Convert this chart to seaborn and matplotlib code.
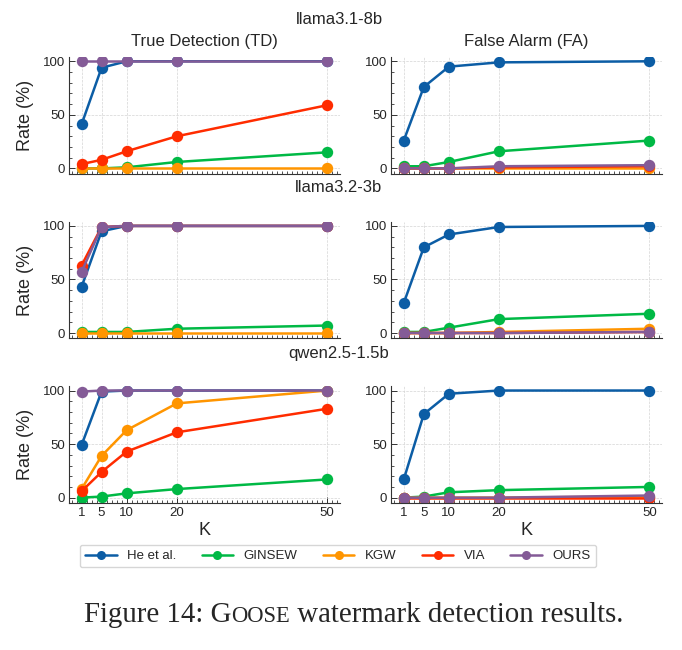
"""GOOSE watermark detection results: TD / FA rates vs K for three models"""

import pandas as pd
import matplotlib.pyplot as plt
import seaborn as sns
from matplotlib.ticker import MultipleLocator

K = [1, 5, 10, 20, 50]
methods = ["He et al.", "GINSEW", "KGW", "VIA", "OURS"]
colors = ["#0C5DA5", "#00B945", "#FF9500", "#FF2C00", "#845B97"]
models = ["llama3.1-8b", "llama3.2-3b", "qwen2.5-1.5b"]

# true detection rates (%), one list per method, per model
td_llama31 = [
    [41, 94, 100, 100, 100],
    [0, 0, 1, 6, 15],
    [0, 0, 0, 0, 0],
    [4, 8, 16, 30, 59],
    [100, 100, 100, 100, 100],
]
td_llama32 = [
    [43, 95, 100, 100, 100],
    [1, 1, 1, 4, 7],
    [0, 0, 0, 0, 0],
    [63, 99, 100, 100, 100],
    [57, 99, 100, 100, 100],
]
td_qwen = [
    [49, 99, 100, 100, 100],
    [0, 1, 4, 8, 17],
    [8, 39, 63, 88, 100],
    [6, 24, 43, 61, 83],
    [99, 100, 100, 100, 100],
]
# false alarm rates (%)
fa_llama31 = [
    [26, 76, 95, 99, 100],
    [2, 2, 6, 16, 26],
    [0, 0, 0, 0, 0],
    [0, 0, 0, 1, 2],
    [0, 0, 0, 2, 3],
]
fa_llama32 = [
    [28, 80, 92, 99, 100],
    [1, 1, 5, 13, 18],
    [0, 0, 0, 1, 4],
    [0, 0, 0, 0, 1],
    [0, 0, 0, 0, 1],
]
fa_qwen = [
    [17, 78, 97, 100, 100],
    [0, 1, 5, 7, 10],
    [0, 0, 0, 0, 1],
    [0, 0, 0, 0, 0],
    [0, 0, 0, 0, 2],
]

td_all = [td_llama31, td_llama32, td_qwen]
fa_all = [fa_llama31, fa_llama32, fa_qwen]


def to_long(table):
    rows = []
    for m, vals in zip(methods, table):
        for k, v in zip(K, vals):
            rows.append({"K": k, "Rate": v, "Method": m})
    return pd.DataFrame(rows)


def style_axes(ax):
    ax.grid(True, linestyle="--", linewidth=0.5, color="#d5d5d5")
    for s in ["top", "right"]:
        ax.spines[s].set_visible(False)
    for s in ["left", "bottom"]:
        ax.spines[s].set_color("#333333")
        ax.spines[s].set_linewidth(0.8)
    ax.set_xticks(K)
    ax.xaxis.set_minor_locator(MultipleLocator(1))
    ax.set_yticks([0, 50, 100])
    ax.yaxis.set_minor_locator(MultipleLocator(10))
    ax.tick_params(which="both", direction="in", color="#333333", labelsize=9.5,
                   bottom=True, left=True, top=False, right=False, pad=3)
    ax.tick_params(which="major", length=4, width=0.7)
    ax.tick_params(which="minor", length=2, width=0.6)
    ax.set_ylim(-5, 104)


sns.set_theme(style="white")
plt.rcParams["font.family"] = ["Liberation Sans", "DejaVu Sans"]

fig, axes = plt.subplots(3, 2, figsize=(6.82, 6.50), dpi=100, sharex=True)
fig.subplots_adjust(left=69 / 682, right=662 / 682, top=1 - 57 / 650,
                    bottom=1 - 503 / 650, wspace=0.19, hspace=0.41)

palette = dict(zip(methods, colors))
for r in range(3):
    for c, data in enumerate([td_all[r], fa_all[r]]):
        ax = axes[r, c]
        df = to_long(data)
        sns.lineplot(data=df, x="K", y="Rate", hue="Method", hue_order=methods,
                     palette=palette, marker="o", markersize=8.2,
                     markeredgewidth=0, linewidth=1.8, ax=ax, legend=False)
        style_axes(ax)
        ax.set_xlabel("")
        ax.set_ylabel("Rate (%)" if c == 0 else "", fontsize=13, labelpad=6)
    axes[r, 0].set_xlim(-1.5, 52.5)

axes[0, 0].set_title("True Detection (TD)", fontsize=12, pad=8)
axes[0, 1].set_title("False Alarm (FA)", fontsize=12, pad=8)
for ax in axes[2]:
    ax.set_xlabel("K", fontsize=13, labelpad=2)

for name, ypix in zip(models, [20, 187, 353]):
    fig.text(0.497, 1 - ypix / 650, name, ha="center", va="center", fontsize=12)

handles = [plt.Line2D([], [], color=col, marker="o", markersize=6.5,
                      markeredgewidth=0, linewidth=1.8) for col in colors]
fig.legend(handles, methods, loc="center", ncol=5,
           bbox_to_anchor=(338 / 682, 1 - 556 / 650), fontsize=9.5,
           frameon=True, fancybox=True, edgecolor="#cccccc",
           handlelength=2.4, columnspacing=1.9, handletextpad=0.8, borderpad=0.4)

# caption with small caps for GOOSE
serif = ["Liberation Serif", "DejaVu Serif"]
cap_y = 1 - 622 / 650
parts = [("Figure 14: G", 20.8), ("OOSE", 16.3), (" watermark detection results.", 20.8)]
fig.canvas.draw()
renderer = fig.canvas.get_renderer()
x0 = 84
for s, fs in parts:
    t = fig.text(x0 / 682, cap_y, s, ha="left", va="baseline",
                 fontsize=fs, family=serif)
    x0 = t.get_window_extent(renderer).x1

plt.savefig("out.png", dpi=100)
plt.close()
